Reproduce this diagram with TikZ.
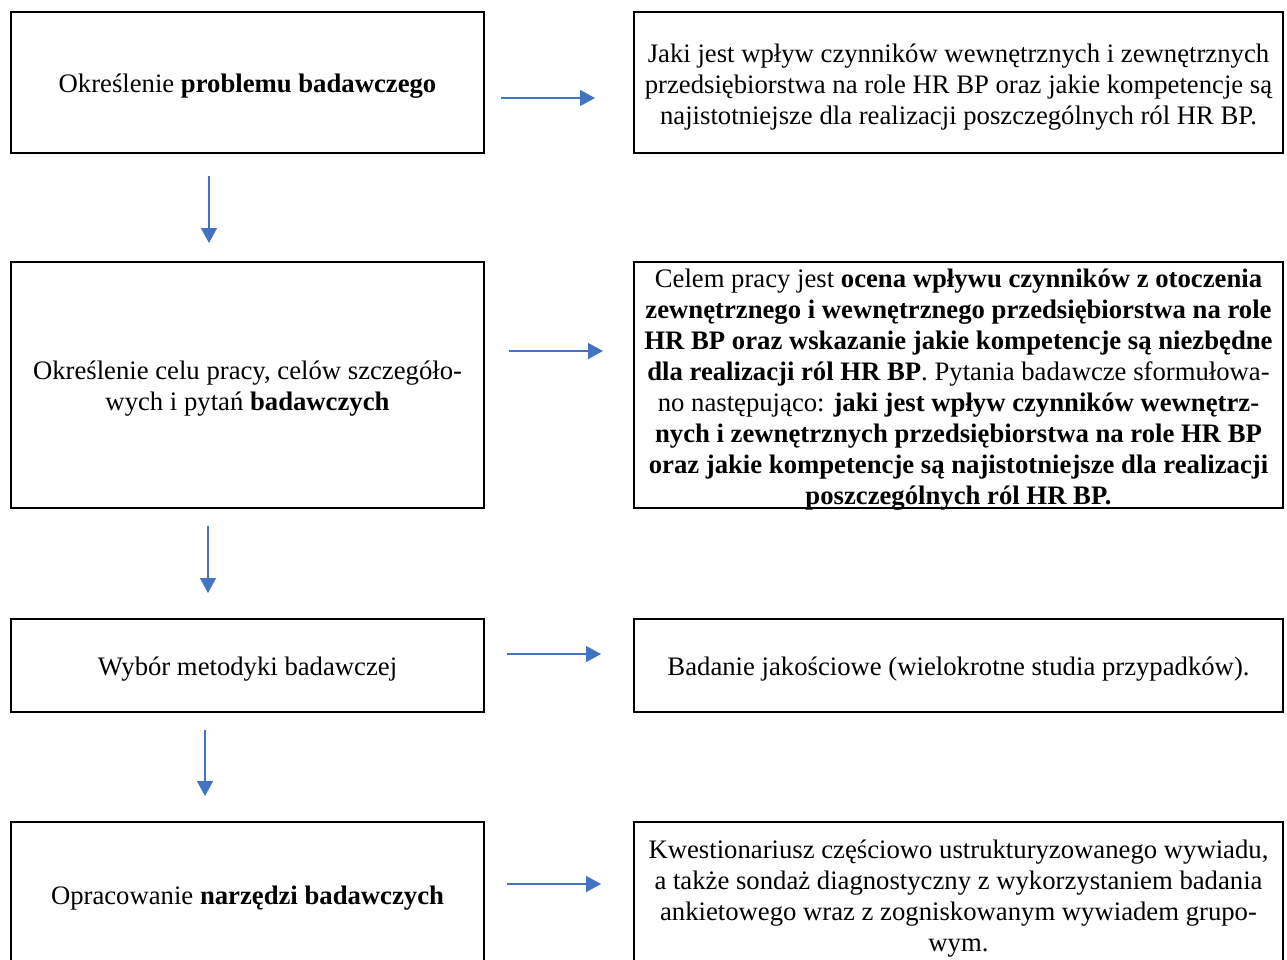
\documentclass[tikz,border=0pt]{standalone}
\usepackage{fontspec}
\setmainfont{Liberation Serif}
\usetikzlibrary{arrows.meta}
\definecolor{arrowblue}{HTML}{4472C4}
\begin{document}
\begin{tikzpicture}[x=1pt,y=-1pt,
  box/.style={draw=black, line width=2pt, inner sep=0pt},
  leftbox/.style={box, minimum width=473pt},
  rightbox/.style={box, minimum width=649pt},
  txt/.style={align=center, inner sep=0pt,
    font=\fontsize{26.7}{31}\selectfont},
  flow/.style={draw=arrowblue, line width=1.4pt,
    -{Triangle[width=16pt,length=15pt]}}]
\useasboundingbox (0,0) rectangle (1287,960);
\clip (0,0) rectangle (1287,960);

% step boxes (left column)
\node[leftbox, minimum height=141pt] (b1) at (247.5,82.5) {};
\node[leftbox, minimum height=246pt] (b2) at (247.5,385) {};
\node[leftbox, minimum height=93pt] (b3) at (247.5,665.5) {};
\node[leftbox, minimum height=146pt] (b4) at (247.5,895) {};

\node[txt] (t1) at ([yshift=-4pt]b1.center)
  {Określenie \textbf{problemu badawczego}};
\node[txt] (t2) at ([yshift=-4pt]b2.center)
  {Określenie celu pracy, celów szczegóło-\\wych i pytań \textbf{badawczych}};
\node[txt] (t3) at ([yshift=-3.5pt]b3.center)
  {Wybór metodyki badawczej};
\node[txt] (t4) at ([yshift=-3.5pt]b4.center)
  {Opracowanie \textbf{narzędzi badawczych}};

% description boxes (right column)
\node[rightbox, minimum height=141pt] (r1) at (958.5,82.5) {};
\node[rightbox, minimum height=246pt] (r2) at (958.5,385) {};
\node[rightbox, minimum height=93pt] (r3) at (958.5,665.5) {};
\node[rightbox, minimum height=146pt] (r4) at (958.5,895) {};

\node[txt] (s1) at ([yshift=-4.5pt]r1.center)
  {Jaki jest wpływ czynników wewnętrznych i zewnętrznych\\
   przedsiębiorstwa na role HR BP oraz jakie kompetencje są\\
   najistotniejsze dla realizacji poszczególnych ról HR BP.};
\node[txt] (s2) at ([yshift=-4.5pt]r2.center)
  {Celem pracy jest \textbf{ocena wpływu czynników z otoczenia}\\
   \textbf{zewnętrznego i wewnętrznego przedsiębiorstwa na role}\\
   \textbf{HR BP oraz wskazanie jakie kompetencje są niezbędne}\\
   \textbf{dla realizacji ról HR BP}. Pytania badawcze sformułowa-\\
   no następująco: \textbf{jaki jest wpływ czynników wewnętrz-}\\
   \textbf{nych i zewnętrznych przedsiębiorstwa na role HR BP}\\
   \textbf{oraz jakie kompetencje są najistotniejsze dla realizacji}\\
   \textbf{poszczególnych ról HR BP.}};
\node[txt] (s3) at ([yshift=-3.5pt]r3.center)
  {Badanie jakościowe (wielokrotne studia przypadków).};
\node[txt] (s4) at ([yshift=-3.5pt]r4.center)
  {Kwestionariusz częściowo ustrukturyzowanego wywiadu,\\
   a także sondaż diagnostyczny z wykorzystaniem badania\\
   ankietowego wraz z zogniskowanym wywiadem grupo-\\
   wym.};

% horizontal connectors
\draw[flow] ([xshift=16pt,yshift=-15.5pt]b1.east) -- ([xshift=-38pt,yshift=-15.5pt]r1.west);
\draw[flow] ([xshift=24pt,yshift=34pt]b2.east) -- ([xshift=-30pt,yshift=34pt]r2.west);
\draw[flow] ([xshift=22pt,yshift=11.5pt]b3.east) -- ([xshift=-32pt,yshift=11.5pt]r3.west);
\draw[flow] ([xshift=22pt,yshift=11pt]b4.east) -- ([xshift=-32pt,yshift=11pt]r4.west);

% vertical connectors
\draw[flow] ([xshift=-38.5pt,yshift=-22pt]b1.south) -- ([xshift=-38.5pt,yshift=18pt]b2.north);
\draw[flow] ([xshift=-39.5pt,yshift=-17pt]b2.south) -- ([xshift=-39.5pt,yshift=25pt]b3.north);
\draw[flow] ([xshift=-42.5pt,yshift=-17pt]b3.south) -- ([xshift=-42.5pt,yshift=25pt]b4.north);
\end{tikzpicture}
\end{document}
